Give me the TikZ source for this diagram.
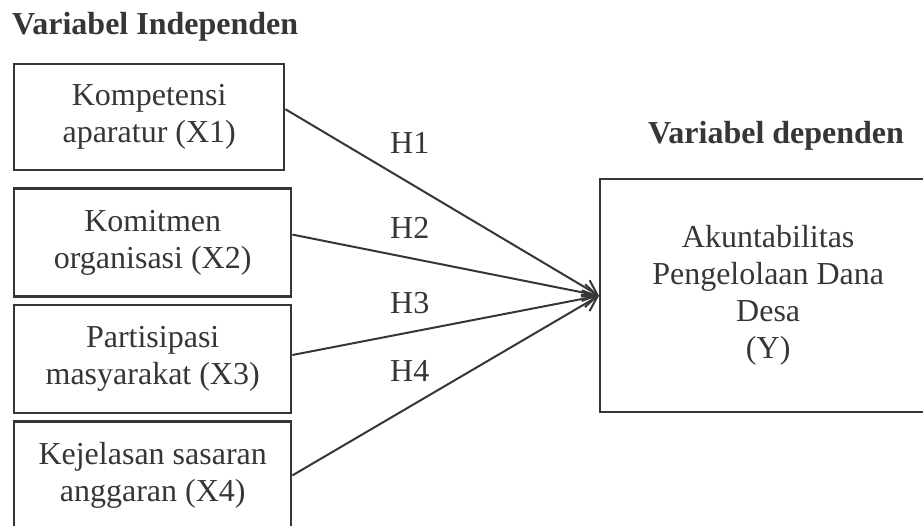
\documentclass[tikz,border=0pt]{standalone}
\usepackage{fontspec}
\setmainfont{Liberation Serif}
\usetikzlibrary{positioning, arrows.meta}
\definecolor{tinta}{HTML}{363636}

\begin{document}
\begin{tikzpicture}[x=1pt,y=-1pt]

	\tikzstyle{every node}=[font=\fontsize{32}{37}\selectfont, text=tinta, inner sep=0pt] % ukuran huruf
	\tikzstyle{kotak} = [draw=tinta, line width=2.4pt, align=center, minimum width=277pt, minimum height=108pt]

	\useasboundingbox (0,0) rectangle (923,525);

	\node[anchor=base west, font=\fontsize{32}{37}\selectfont\bfseries] (judin) at (12,34)  {Variabel Independen};
	\node[anchor=base west, font=\fontsize{32}{37}\selectfont\bfseries] (judde) at (648,143) {Variabel dependen};

	\node[kotak, anchor=north west, minimum width=270pt, minimum height=106pt] (kompt) at (13,63) {Kompetensi \\ aparatur (X1)};
	\node[kotak, below = 16pt of kompt.south west, anchor=north west] (komit) {Komitmen \\ organisasi (X2)};
	\node[kotak, below = 6pt of komit.south west, anchor=north west]  (parts) {Partisipasi \\ masyarakat (X3)};
	\node[kotak, below = 6pt of parts.south west, anchor=north west, minimum height=108pt] (kejls) {Kejelasan sasaran \\ anggaran (X4)};
	\path[clip] (0,0) rectangle (923,525); % bawah kotak terpotong

	\node[kotak, anchor=north west, minimum width=336pt, minimum height=233pt] (akunt) at (599,178) {Akuntabilitas \\ Pengelolaan Dana \\ Desa \\ (Y)};

	\tikzstyle{arrow} = [line width=2pt, draw=tinta, -{Straight Barb[length=14pt,width=17pt]}]
	\draw[arrow] ([yshift=8pt]kompt.east)    --    (akunt.west);
	\draw[arrow] ([yshift=8pt]komit.east)    --    (akunt.west);
	\draw[arrow] ([yshift=4pt]parts.east)    --    (akunt.west);
	\draw[arrow] (kejls.east)                --    (akunt.west);

	\node[anchor=base west] (hsatu) at (390,153) {H1};
	\node[anchor=base west] (hdua)  at (390,238) {H2};
	\node[anchor=base west] (htiga) at (390,313) {H3};
	\node[anchor=base west] (hempt) at (390,381) {H4};

\end{tikzpicture}
\end{document}
